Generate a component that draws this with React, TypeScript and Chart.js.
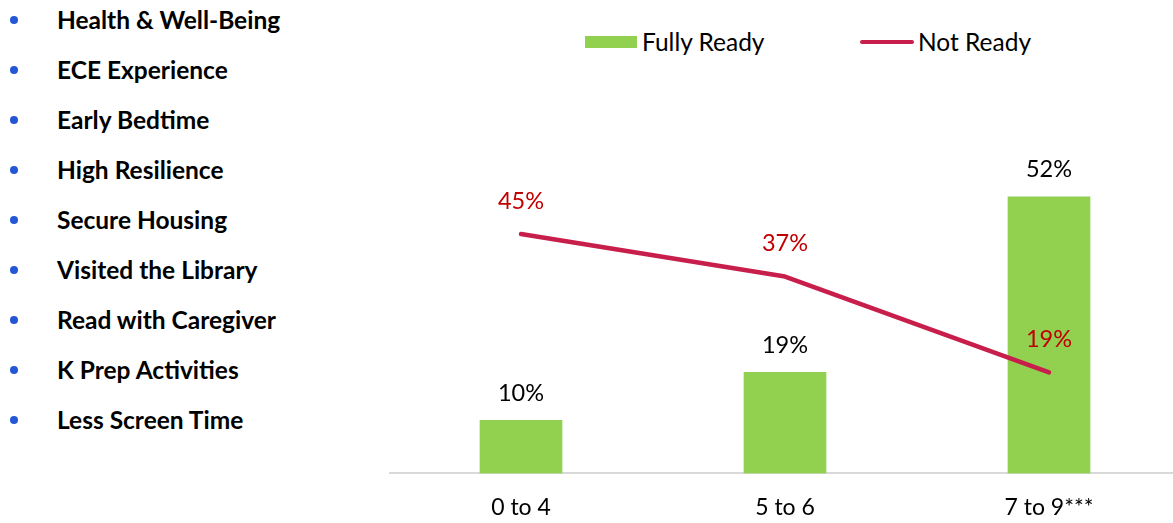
import React, { useEffect, useRef } from "react";
import { Chart, registerables } from "chart.js";

Chart.register(...registerables);

const categories = ["0 to 4", "5 to 6", "7 to 9***"];
const fullyReady = [10, 19, 52];
const notReady = [45, 37, 19];
const seriesNames = ["Fully Ready", "Not Ready"];
const bulletItems = [
  "Health & Well-Being",
  "ECE Experience",
  "Early Bedtime",
  "High Resilience",
  "Secure Housing",
  "Visited the Library",
  "Read with Caregiver",
  "K Prep Activities",
  "Less Screen Time",
];

const GREEN = "#92D050";
const CRIMSON = "#C71E4C";
const LABEL_RED = "#C00000";
const FONT = "Lato, 'Open Sans', sans-serif";

const valueLabels = {
  id: "valueLabels",
  afterDatasetsDraw(chart: any) {
    const ctx = chart.ctx;
    ctx.save();
    ctx.font = `23.5px ${FONT}`;
    ctx.textAlign = "center";
    ctx.textBaseline = "middle";
    chart.data.datasets.forEach((ds: any, di: number) => {
      const meta = chart.getDatasetMeta(di);
      meta.data.forEach((el: any, i: number) => {
        const v = ds.data[i];
        if (ds.type === "line") {
          ctx.fillStyle = LABEL_RED;
          ctx.fillText(`${v}%`, el.x, el.y - 33);
        } else {
          ctx.fillStyle = "#000000";
          ctx.fillText(`${v}%`, el.x, el.y - 27);
        }
      });
    });
    ctx.restore();
  },
};

export default function App() {
  const ref = useRef<HTMLCanvasElement>(null);
  useEffect(() => {
    if (!ref.current) return;
    const chart = new Chart(ref.current, {
      type: "bar",
      data: {
        labels: categories,
        datasets: [
          {
            type: "line",
            label: seriesNames[1],
            data: notReady,
            borderColor: CRIMSON,
            backgroundColor: CRIMSON,
            borderWidth: 4.5,
            pointRadius: 0,
            borderCapStyle: "round",
            borderJoinStyle: "round",
            tension: 0,
            order: 0,
          } as any,
          {
            type: "bar",
            label: seriesNames[0],
            data: fullyReady,
            backgroundColor: GREEN,
            barThickness: 82,
            order: 1,
          },
        ],
      },
      options: {
        animation: false,
        responsive: true,
        maintainAspectRatio: false,
        layout: { padding: { top: 0, bottom: 5, left: 0, right: 0 } },
        plugins: {
          legend: { display: false },
          tooltip: { enabled: false },
        },
        scales: {
          x: {
            offset: true,
            grid: { display: false, drawTicks: false },
            border: { display: true, color: "#D9D9D9", width: 2 },
            ticks: {
              color: "#000000",
              padding: 20,
              font: { family: FONT, size: 23 },
            },
          },
          y: {
            display: false,
            min: 0,
            max: 89,
          },
        },
      },
      plugins: [valueLabels],
    });
    return () => chart.destroy();
  }, []);

  return (
    <div
      style={{
        position: "fixed",
        left: 0,
        top: 0,
        width: 1173,
        height: 523,
        overflow: "hidden",
        background: "#ffffff",
        fontFamily: FONT,
      }}
    >
      {bulletItems.map((t, i) => (
        <div key={t}>
          <div
            style={{
              position: "absolute",
              left: 10,
              top: 20 + i * 50 - 4,
              width: 8,
              height: 8,
              borderRadius: "50%",
              background: "#2457D6",
            }}
          />
          <div
            style={{
              position: "absolute",
              left: 57,
              top: 20 + i * 50 - 15,
              height: 30,
              lineHeight: "30px",
              fontSize: 24.5,
              fontWeight: 700,
              color: "#000",
              whiteSpace: "nowrap",
            }}
          >
            {t}
          </div>
        </div>
      ))}
      <div
        style={{
          position: "absolute",
          left: 585,
          top: 36,
          width: 52,
          height: 12,
          background: GREEN,
        }}
      />
      <div
        style={{
          position: "absolute",
          left: 642,
          top: 27,
          lineHeight: "30px",
          fontSize: 24.5,
          color: "#000",
          whiteSpace: "nowrap",
        }}
      >
        {seriesNames[0]}
      </div>
      <div
        style={{
          position: "absolute",
          left: 860,
          top: 40,
          width: 54,
          height: 4,
          borderRadius: 2,
          background: CRIMSON,
        }}
      />
      <div
        style={{
          position: "absolute",
          left: 918,
          top: 27,
          lineHeight: "30px",
          fontSize: 24.5,
          color: "#000",
          whiteSpace: "nowrap",
        }}
      >
        {seriesNames[1]}
      </div>
      <div style={{ position: "absolute", left: 389, top: 0, width: 792, height: 546 }}>
        <canvas ref={ref} />
      </div>
    </div>
  );
}
